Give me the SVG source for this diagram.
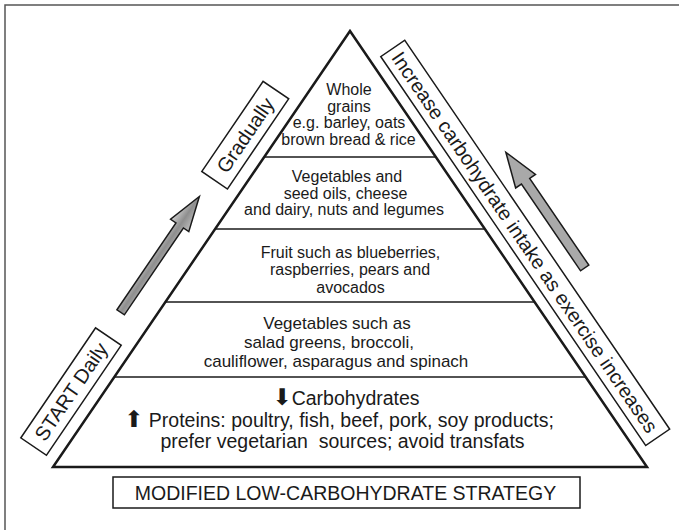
<svg xmlns="http://www.w3.org/2000/svg" width="679" height="530" viewBox="0 0 679 530">
<style>
  .t { font-family: "Liberation Sans", Arial, sans-serif; fill: #1a1a1a; text-anchor: middle; }
  .s16 { font-size: 16px; }
  .s17 { font-size: 17px; }
  .s19 { font-size: 19.5px; }
  .lbl { font-size: 20px; }
  .box { fill: #fff; stroke: #1a1a1a; stroke-width: 1.5; }
  .div { stroke: #1a1a1a; stroke-width: 1.5; fill: none; }
  .arr { font-family: "DejaVu Sans", sans-serif; font-size: 23px; }
</style>
<defs>
  <linearGradient id="gl" x1="0" y1="0" x2="0" y2="1">
    <stop offset="0" stop-color="#d0d0d0"/>
    <stop offset="0.5" stop-color="#8e8e8e"/>
    <stop offset="1" stop-color="#bdbdbd"/>
  </linearGradient>
</defs>
<rect x="0" y="0" width="679" height="530" fill="#fff"/>
<rect x="5" y="5" width="700" height="600" fill="none" stroke="#555" stroke-width="1.5"/>

<g id="pyramid">
  <polygon points="350,31 53,467 647,467" fill="#fff" stroke="#1a1a1a" stroke-width="2.5" stroke-linejoin="miter"/>
</g>

<g id="connectors">
  <line class="div" x1="264.2" y1="157" x2="435.8" y2="157"/>
  <line class="div" x1="215.2" y1="229" x2="484.8" y2="229"/>
  <line class="div" x1="165.4" y1="302" x2="534.6" y2="302"/>
  <line class="div" x1="114.4" y1="377" x2="585.6" y2="377"/>
  <g transform="translate(53,467) rotate(-55.8)">
    <polygon points="166,-35.5 271,-35.5 271,-42 306,-31 271,-20 271,-26.5 166,-26.5" fill="url(#gl)" stroke="#1a1a1a" stroke-width="1.5" stroke-linejoin="miter"/>
  </g>
  <g transform="translate(350,31) rotate(55.73)">
    <polygon points="188,-60.5 223,-72.5 223,-65.5 328,-65.5 328,-55.5 223,-55.5 223,-48.5" fill="#a9a9a9" stroke="#1a1a1a" stroke-width="1.5" stroke-linejoin="miter"/>
  </g>
</g>

<g id="layer1">
  <text class="t s16" x="349" y="95">Whole</text>
  <text class="t s16" x="349" y="111.5">grains</text>
  <text class="t s16" x="349" y="128">e.g. barley, oats</text>
  <text class="t s16" x="348.5" y="144.5">brown bread &amp; rice</text>
</g>
<g id="layer2">
  <text class="t s16" x="347" y="182">Vegetables and</text>
  <text class="t s16" x="345.5" y="198.5">seed oils, cheese</text>
  <text class="t s16" x="344" y="215">and dairy, nuts and legumes</text>
</g>
<g id="layer3">
  <text class="t s16" x="350.5" y="257.5">Fruit such as blueberries,</text>
  <text class="t s16" x="350" y="275">raspberries, pears and</text>
  <text class="t s16" x="350.5" y="292.5">avocados</text>
</g>
<g id="layer4">
  <text class="t s17" x="337" y="329">Vegetables such as</text>
  <text class="t s17" x="329" y="348">salad greens, broccoli,</text>
  <text class="t s17" x="336" y="367">cauliflower, asparagus and spinach</text>
</g>
<g id="layer5">
  <text class="t s19" x="346" y="405"><tspan class="arr">⬇</tspan>Carbohydrates</text>
  <text class="t s19" x="339" y="427"><tspan class="arr">⬆</tspan> Proteins: poultry, fish, beef, pork, soy products;</text>
  <text class="t s19" x="342.5" y="448">prefer vegetarian&#160; sources; avoid transfats</text>
</g>

<g id="start-daily" transform="translate(53,467) rotate(-55.8)">
  <rect class="box" x="6" y="-43" width="133" height="31"/>
  <text class="t lbl" x="72.5" y="-20.5">START Daily</text>
</g>
<g id="gradually" transform="translate(53,467) rotate(-55.8)">
  <rect class="box" x="328" y="-43" width="109" height="31"/>
  <text class="t lbl" x="382.5" y="-20.5">Gradually</text>
</g>
<g id="increase" transform="translate(350,31) rotate(55.73)">
  <rect class="box" x="38.5" y="-40" width="470.5" height="29"/>
  <text class="t lbl" x="273" y="-18.5">Increase carbohydrate intake as exercise increases</text>
</g>

<g id="title">
  <rect class="box" x="113" y="477" width="467" height="31"/>
  <text class="t s19" x="345.5" y="499.5">MODIFIED LOW-CARBOHYDRATE STRATEGY</text>
</g>
</svg>
